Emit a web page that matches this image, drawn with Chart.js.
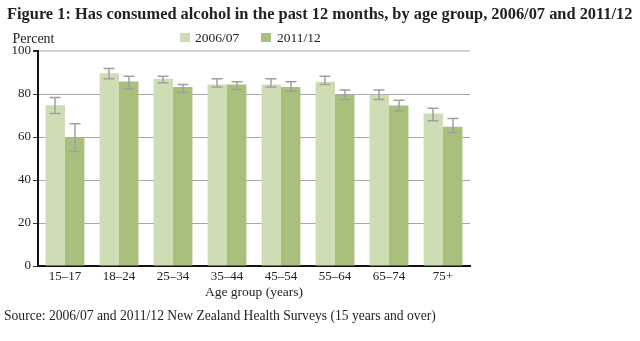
<!DOCTYPE html>
<html>
<head>
<meta charset="utf-8">
<script src="https://cdn.jsdelivr.net/npm/chart.js@4/dist/chart.umd.min.js"></script>
<style>
    body { margin: 0; background: #fff; font-family: "Liberation Serif", serif; color: #222; }
    #wrap { position: relative; width: 640px; height: 341px; overflow: hidden; }
    #chart { position: absolute; left: 0; top: 0; }
    .txt { position: absolute; line-height: 1; white-space: nowrap; }
    .title { left: 7px; top: 6px; font-size: 16.4px; font-weight: bold; }
    .percent { left: 12.5px; top: 31.5px; font-size: 14px; }
    .legtext { top: 30.5px; font-size: 13.5px; }
    .box { position: absolute; top: 33px; width: 10px; height: 9px; }
    .source { left: 4px; top: 308.5px; font-size: 13.6px; }
</style>
</head>
<body>
<div id="wrap">
    <canvas id="chart" width="640" height="341"></canvas>
    <div class="txt title">Figure 1: Has consumed alcohol in the past 12 months, by age group, 2006/07 and 2011/12</div>
    <div class="txt percent">Percent</div>
    <div class="box" style="left:180px;background:#cfddb4"></div>
    <div class="txt legtext" style="left:195px">2006/07</div>
    <div class="box" style="left:261px;background:#a8c07c"></div>
    <div class="txt legtext" style="left:277px">2011/12</div>
    <div class="txt source">Source: 2006/07 and 2011/12 New Zealand Health Surveys (15 years and over)</div>
</div>
<script>
const categories = ["15–17", "18–24", "25–34", "35–44", "45–54", "55–64", "65–74", "75+"];
const values2006 = [74.8, 89.6, 87.1, 84.4, 84.4, 85.7, 79.6, 70.9];
const values2011 = [59.9, 85.8, 83.3, 84.4, 83.2, 79.6, 74.6, 64.8];
const low2006 = [70.9, 87.1, 85.2, 83.3, 83.3, 84.4, 77.4, 67.6];
const high2006 = [78.4, 91.9, 88.2, 87.1, 87.1, 88.2, 81.9, 73.4];
const low2011 = [53.3, 82.4, 80.7, 82.1, 81.3, 77.4, 72.1, 62.1];
const high2011 = [66.2, 88.2, 84.4, 85.7, 85.7, 81.9, 77.1, 68.6];
const yTicks = [0, 20, 40, 60, 80, 100];

// error bars drawn on top of the bars
const errorBars = {
    id: "errorBars",
    afterDatasetsDraw(chart) {
        const ctx = chart.ctx;
        const y = chart.scales.y;
        const ranges = [[low2006, high2006], [low2011, high2011]];
        ctx.save();
        ctx.strokeStyle = "#a0a0a0";
        ctx.lineWidth = 1.5;
        chart.data.datasets.forEach((ds, di) => {
            const meta = chart.getDatasetMeta(di);
            meta.data.forEach((bar, i) => {
                const x = Math.round(bar.x);
                const yl = y.getPixelForValue(ranges[di][0][i]);
                const yh = y.getPixelForValue(ranges[di][1][i]);
                ctx.beginPath();
                ctx.moveTo(x, yl); ctx.lineTo(x, yh);
                ctx.moveTo(x - 5.5, yl); ctx.lineTo(x + 5.5, yl);
                ctx.moveTo(x - 5.5, yh); ctx.lineTo(x + 5.5, yh);
                ctx.stroke();
            });
        });
        ctx.restore();
    }
};

new Chart(document.getElementById("chart"), {
    type: "bar",
    data: {
        labels: categories,
        datasets: [
            { label: "2006/07", data: values2006, backgroundColor: "#cfddb4" },
            { label: "2011/12", data: values2011, backgroundColor: "#a8c07c" }
        ]
    },
    options: {
        responsive: false,
        animation: false,
        layout: { padding: { top: 51, right: 170, bottom: 40, left: 0 } },
        datasets: { bar: { categoryPercentage: 0.72, barPercentage: 1.0 } },
        plugins: { legend: { display: false }, tooltip: { enabled: false } },
        scales: {
            x: {
                grid: { display: false, drawTicks: false },
                border: { color: "#111", width: 2 },
                ticks: { color: "#222", padding: 3, font: { family: "Liberation Serif", size: 13 } },
                title: { display: true, text: "Age group (years)", color: "#222", padding: { top: 2, bottom: 0 },
                         font: { family: "Liberation Serif", size: 13.5 } },
                afterFit(scale) { scale.height = 35; }
            },
            y: {
                min: 0, max: 100,
                afterBuildTicks(scale) { scale.ticks = yTicks.map(v => ({ value: v })); },
                grid: {
                    color: ctx => ctx.tick && ctx.tick.value === 100 ? "#d2d2d2" : "#a8a8a8",
                    lineWidth: ctx => ctx.tick && ctx.tick.value === 100 ? 2 : 1,
                    tickColor: "#333",
                    tickLength: 5
                },
                border: { color: "#111", width: 2 },
                ticks: { color: "#222", padding: 2, font: { family: "Liberation Serif", size: 13 } },
                afterFit(scale) { scale.width = 38; }
            }
        }
    },
    plugins: [errorBars]
});
</script>
</body>
</html>
